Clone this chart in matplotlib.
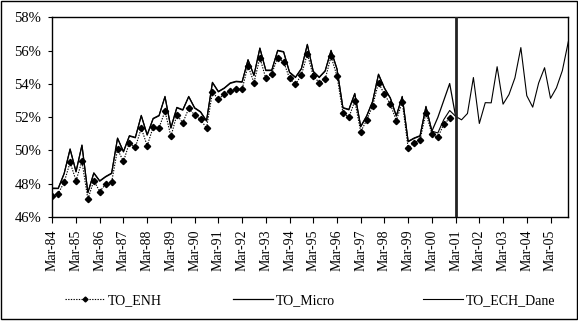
import matplotlib
matplotlib.use("Agg")
import matplotlib.pyplot as plt
from matplotlib.patches import Rectangle
from matplotlib.lines import Line2D

plt.rcParams['font.family'] = ['Liberation Serif', 'DejaVu Serif']

# quarterly categories Mar-84 .. Dec-05 (88 quarters)
years = list(range(84, 100)) + list(range(0, 6))
tick_labels = ["Mar-%02d" % y for y in years]
n_quarters = 88
break_quarter = 68  # Mar-01

TO_ENH = [47.27, 47.41, 48.09, 49.28, 48.19, 49.34, 47.07, 48.19, 47.53, 47.97,
          48.09, 50.06, 49.34, 50.46, 50.18, 51.34, 50.28, 51.40, 51.36, 52.36,
          50.84, 52.14, 51.66, 52.52, 52.14, 51.86, 51.34, 53.49, 53.10, 53.37,
          53.55, 53.68, 53.68, 55.10, 54.07, 55.57, 54.33, 54.61, 55.57, 55.33,
          54.33, 53.97, 54.53, 55.81, 54.47, 54.08, 54.27, 55.65, 54.47, 52.26,
          51.98, 52.97, 51.12, 51.82, 52.66, 54.07, 53.37, 52.78, 51.78, 52.92,
          50.12, 50.46, 50.62, 52.26, 50.98, 50.78, 51.58, 51.92]

TO_Micro = [47.71, 47.71, 48.60, 50.06, 48.71, 50.30, 47.45, 48.63, 48.15, 48.41,
            48.61, 50.72, 49.91, 50.86, 50.76, 52.08, 50.92, 51.90, 52.08, 53.22,
            51.34, 52.56, 52.42, 53.22, 52.54, 52.30, 51.76, 54.07, 53.52, 53.73,
            54.03, 54.13, 54.10, 55.43, 54.50, 56.13, 54.80, 54.80, 55.99, 55.91,
            54.68, 54.38, 54.90, 56.35, 54.73, 54.38, 54.76, 55.99, 54.88, 52.55,
            52.44, 53.40, 51.42, 52.05, 52.92, 54.56, 53.73, 53.13, 52.06, 53.22,
            50.52, 50.72, 50.86, 52.62, 51.16, 51.98, 53.00, 54.02, 52.05]

TO_ECH_Dane = [47.74, 47.73, 48.63, 50.10, 48.74, 50.33, 47.48, 48.66, 48.18, 48.44,
               48.64, 50.75, 49.94, 50.89, 50.79, 52.11, 50.95, 51.93, 52.11, 53.25,
               51.37, 52.59, 52.45, 53.25, 52.57, 52.33, 51.79, 54.10, 53.55, 53.76,
               54.06, 54.16, 54.13, 55.46, 54.53, 56.16, 54.83, 54.83, 56.02, 55.94,
               54.71, 54.41, 54.93, 56.38, 54.76, 54.41, 54.79, 56.02, 54.91, 52.58,
               52.47, 53.43, 51.45, 52.08, 52.95, 54.59, 53.76, 53.16, 52.09, 53.25,
               50.55, 50.75, 50.89, 52.65, 51.16, 51.05, 51.85, 52.40, 52.05,
               51.84, 52.22, 54.38, 51.62, 52.87, 52.86, 55.03, 52.78, 53.36, 54.36,
               56.18, 53.29, 52.60, 54.05, 54.97, 53.13, 53.76, 54.80, 56.53]

y_ticks = [46, 48, 50, 52, 54, 56, 58]

fig = plt.figure(figsize=(5.78, 3.24), dpi=100)
ax = fig.add_axes([52.3 / 578, 1 - 217 / 324, (568.3 - 52.3) / 578, (217 - 17.3) / 324])

ax.plot(range(len(TO_Micro)), TO_Micro, color='black', lw=0.9, label='TO_Micro', zorder=3)
ax.plot(range(len(TO_ECH_Dane)), TO_ECH_Dane, color='black', lw=0.8, label='TO_ECH_Dane', zorder=3)
ax.plot(range(len(TO_ENH)), TO_ENH, color='black', lw=0.8, linestyle=(0, (1.2, 1.2)),
        marker='D', markersize=3.2, markerfacecolor='black', markeredgecolor='black',
        label='TO_ENH', zorder=4)

ax.axvline(break_quarter, color='#222222', lw=2.0, zorder=5)

ax.set_xlim(0, n_quarters - 1)
ax.set_ylim(46, 58)
ax.set_yticks(y_ticks)
ax.set_yticklabels(["%d%%" % v for v in y_ticks], fontsize=10.5)
ax.set_xticks(range(0, n_quarters, 4))
ax.set_xticklabels(tick_labels, rotation=90, fontsize=10)
ax.tick_params(axis='x', direction='out', length=4, width=0.8, pad=5)
ax.tick_params(axis='y', direction='out', length=3, width=0.8, pad=5)
for s in ax.spines.values():
    s.set_linewidth(1.0)
    s.set_color('black')

# figure border
fig.patches.append(Rectangle((0.5 / 578, 5 / 324), 576.5 / 578, 318 / 324,
                             transform=fig.transFigure, fill=False,
                             edgecolor='black', lw=1.0))

# legend entries
h_enh = Line2D([], [], color='black', lw=0.8, linestyle=(0, (1.2, 1.2)),
               marker='D', markersize=2.5, markerfacecolor='black')
h_micro = Line2D([], [], color='black', lw=0.9)
h_dane = Line2D([], [], color='black', lw=0.8)
ly = 1 - 300.5 / 324
for h, lab, x0 in [(h_enh, 'TO_ENH', 65), (h_micro, 'TO_Micro', 233), (h_dane, 'TO_ECH_Dane', 423)]:
    fig.legend([h], [lab], loc='center left', bbox_to_anchor=(x0 / 578, ly),
               frameon=False, fontsize=10, borderpad=0, borderaxespad=0,
               handlelength=2.9, handletextpad=0.2, markerscale=1.0)

fig.savefig('out.png', dpi=100)
